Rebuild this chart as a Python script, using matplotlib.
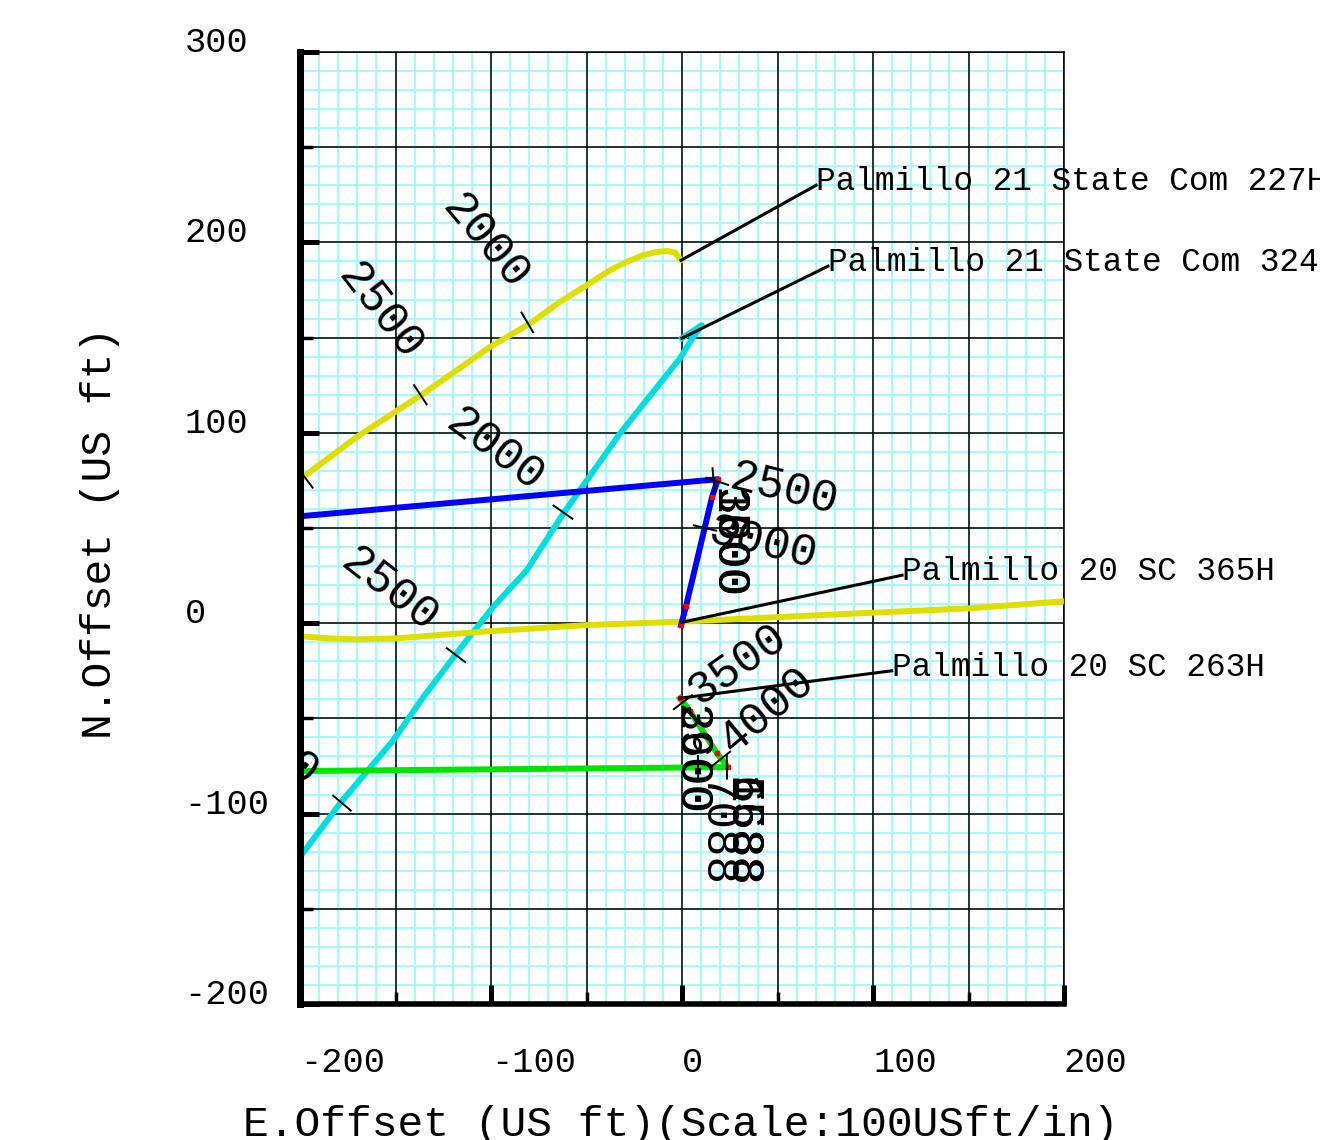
import numpy as np
import matplotlib
matplotlib.use("Agg")
import matplotlib.pyplot as plt
from matplotlib.transforms import offset_copy

# ---- well paths (E offset, N offset in US ft) ----
w227_e = [-0.5, -1.9, -3.7, -8.0, -13.2, -20.3, -29.0, -37.7, -49.9, -63.9, -79.6,
          -100.5, -135.4, -152.9, -170.3, -198.3, -204.0]
w227_n = [190.6, 192.4, 194.7, 195.5, 195.0, 193.3, 189.8, 185.4, 177.5, 168.8, 157.4,
          145.1, 120.6, 109.2, 97.8, 76.8, 72.6]

w324_e = [0.0, 10.3, 5.9, -1.0, -32.5, -53.4, -62.1, -81.3, -98.8, -112.7, -135.4,
          -151.1, -179.1, -200.0, -204.0]
w324_n = [149.7, 156.5, 150.4, 139.2, 99.6, 69.9, 57.6, 27.8, 8.6, -8.9, -38.7,
          -61.4, -94.7, -122.7, -128.0]

w365_e = [-204, -200, -185, -170, -150, -105, -50, 0, 50, 93, 150, 204]
w365_n = [-6.6, -6.8, -8.0, -8.5, -8.0, -4.5, -1.0, 0.8, 3.2, 5.2, 7.8, 11.8]

blue_e = [-0.5, 2.1, 15.7, 18.8, -204.0]
blue_n = [-1.0, 8.9, 66.2, 75.6, 55.8]

green_e = [-1.0, 4.2, 18.3, 24.1, -204.0]
green_n = [-39.4, -46.2, -68.3, -75.6, -77.7]

# depth tick marks along each path
ticks_227 = [(-81.0, 158.0), (-137.0, 120.0), (-197.0, 76.0)]
ticks_324 = [(-62.3, 58.3), (-118.3, -16.8), (-178.0, -94.5)]
ticks_blue = [(18.5, 74.5), (16.5, 75.4), (12.0, 50.0)]
ticks_green = [(8.4, -75.7), (23.5, -75.6), (20.5, -71.2), (0.5, -41.5)]

# depth labels: (E, N, text, angle)
depth_labels = [
    (-103.1, 200.1, "2000", -50),
    (-158.0, 163.3, "2500", -52),
    (-97.9, 90.9, "2000", -37),
    (-152.9, 17.3, "2500", -38),
    (53.4, 69.9, "2500", -14),
    (41.9, 42.0, "3000", -14),
    (28.8, -22.0, "3500", 35),
    (44.5, -45.7, "4000", 40),
    (-216.0, -64.0, "2500", -38),
]

# overlapped vertical labels near the heels: (E, N, texts)
stacked_labels = [
    (23.5, 42.0, ["3000", "1500", "3600"]),
    (4.2, -72.0, ["3600", "2900"]),
    (17.3, -109.8, ["7088"]),
    (30.9, -109.8, ["5588", "6688", "1588"]),
]

# well name callouts: name, start (E, N), end (E, N)
well_names = ["Palmillo 21 State Com 227H", "Palmillo 21 State Com 324H",
              "Palmillo 20 SC 365H", "Palmillo 20 SC 263H"]
leader_start = [(-0.5, 190.6), (0.0, 149.7), (0.0, 0.5), (-1.0, -39.4)]
leader_end = [(70.2, 230.0), (76.4, 187.5), (115.2, 25.2), (109.8, -25.0)]

x_ticks = [-200, -100, 0, 100, 200]
y_ticks = [-200, -100, 0, 100, 200, 300]

MONO = "Liberation Mono"


def perp_tick(ax, pe, pn, xs, ys, half=6.0):
    """short line across the path at point, perpendicular to nearest segment"""
    xs = np.asarray(xs, float)
    ys = np.asarray(ys, float)
    p = np.array([pe, pn])
    best, d_best = None, 1e9
    for i in range(len(xs) - 1):
        a = np.array([xs[i], ys[i]])
        b = np.array([xs[i + 1], ys[i + 1]])
        ab = b - a
        L = np.dot(ab, ab)
        if L == 0:
            continue
        t = np.clip(np.dot(p - a, ab) / L, 0, 1)
        d = np.linalg.norm(a + t * ab - p)
        if d < d_best:
            d_best, best = d, ab / np.sqrt(L)
    nx, ny = -best[1], best[0]
    ax.plot([pe - half * nx, pe + half * nx], [pn - half * ny, pn + half * ny],
            color="black", lw=1.4, zorder=5)


fig = plt.figure(figsize=(13.2, 11.4), dpi=100)
ax = fig.add_axes([300 / 1320, 1 - 1004 / 1140, 764 / 1320, 952 / 1140])
ax.set_xlim(-200, 200)
ax.set_ylim(-200, 300)

# fine cyan grid, then black grid every 50 ft
for v in np.arange(-200, 201, 10):
    ax.axvline(v, color="#a6fbfb", lw=1.5, zorder=0)
for v in np.arange(-200, 301, 10):
    ax.axhline(v, color="#a6fbfb", lw=1.5, zorder=0)
for v in np.arange(-200, 201, 50):
    ax.axvline(v, color="black", lw=1.1, zorder=1)
for v in np.arange(-200, 301, 50):
    ax.axhline(v, color="black", lw=1.1, zorder=1)

# well paths
LW = 4.3
ax.plot(w227_e, w227_n, color="#dede00", lw=LW, zorder=3, solid_capstyle="round")
ax.plot(w324_e, w324_n, color="#00dede", lw=LW, zorder=3)
ax.plot(w365_e, w365_n, color="#dede00", lw=LW, zorder=3)
ax.plot(blue_e, blue_n, color="#0000ff", lw=LW, zorder=3)
ax.plot(green_e, green_n, color="#00e600", lw=LW, zorder=3)

# survey stations
ax.plot(blue_e[:-1], blue_n[:-1], ls="none", marker="s", ms=3.5, color="red", zorder=4)
ax.plot(green_e[:-1], green_n[:-1], ls="none", marker="s", ms=3.5, color="red", zorder=4)

for pe, pn in ticks_227:
    perp_tick(ax, pe, pn, w227_e, w227_n)
for pe, pn in ticks_324:
    perp_tick(ax, pe, pn, w324_e, w324_n)
for pe, pn in ticks_blue:
    perp_tick(ax, pe, pn, blue_e, blue_n)
for pe, pn in ticks_green:
    perp_tick(ax, pe, pn, green_e, green_n)

for pe, pn, txt, ang in depth_labels:
    ax.text(pe, pn, txt, rotation=ang, rotation_mode="anchor", ha="center", va="center",
            fontsize=33, family=MONO, color="black", zorder=6, clip_on=True)

for pe, pn, txts in stacked_labels:
    for txt in txts:
        ax.text(pe, pn, txt, rotation=-90, ha="center", va="center",
                fontsize=33, family=MONO, color="black", zorder=6)

# name callouts (text sits a few pixels below the leader end)
name_tr = offset_copy(ax.transData, fig=fig, x=0, y=-5, units="dots")
for name, (x0, y0), (x1, y1) in zip(well_names, leader_start, leader_end):
    ax.plot([x0, x1], [y0, y1], color="black", lw=2.2, zorder=6)
    ax.text(x1, y1, name, ha="left", va="baseline", fontsize=23.6, family=MONO,
            color="black", zorder=7, clip_on=False, transform=name_tr)

# axes frame and ticks
for s in ["top", "right"]:
    ax.spines[s].set_linewidth(1.1)
ax.spines["left"].set_linewidth(5)
ax.spines["bottom"].set_linewidth(4)
ax.spines["left"].set_zorder(8)
ax.spines["bottom"].set_zorder(8)

ax.set_xticks(x_ticks)
ax.set_xticks([-150, -50, 50, 150], minor=True)
ax.set_yticks(y_ticks)
ax.set_yticks([-150, -50, 50, 150, 250], minor=True)
ax.set_xticklabels([str(v) for v in x_ticks], ha="left", family=MONO, fontsize=25.5)
ax.set_yticklabels([str(v) for v in y_ticks], ha="left", va="baseline", family=MONO, fontsize=25.5)
ax.tick_params(which="major", direction="in", length=14, width=3.6, top=False, right=False)
ax.tick_params(which="minor", direction="in", length=9, width=2.5, top=False, right=False)
ax.tick_params(axis="x", which="major", pad=30)
ax.tick_params(axis="y", which="major", pad=83)

fig.text(681 / 1320, 1 - 1125 / 1140, "E.Offset (US ft)(Scale:100USft/in)",
         ha="center", va="center", fontsize=31, family=MONO)
fig.text(100 / 1320, 1 - 533 / 1140, "N.Offset (US ft)", rotation=90,
         ha="center", va="center", fontsize=31, family=MONO)

fig.savefig("out.png", dpi=100)
